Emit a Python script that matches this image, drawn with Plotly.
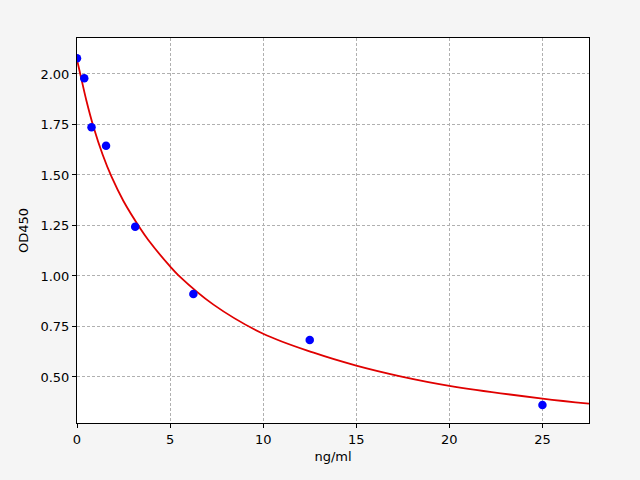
import plotly.graph_objects as go

# Standard points
conc = [0, 0.39, 0.78, 1.56, 3.125, 6.25, 12.5, 25]
od = [2.078, 1.979, 1.736, 1.644, 1.243, 0.911, 0.683, 0.361]

# Fitted curve
curve_x = [0, 0.2, 0.5, 0.88, 1.38, 1.86, 2.5, 3.4, 3.83, 5.0, 5.45, 7.33, 10, 12.71, 15, 17.37, 20, 25, 27.5]
curve_y = [2.07, 1.99, 1.87, 1.74, 1.60, 1.49, 1.37, 1.235, 1.178, 1.047, 1.003, 0.858, 0.714, 0.620, 0.556, 0.503, 0.456, 0.393, 0.368]

y_ticks = [0.50, 0.75, 1.00, 1.25, 1.50, 1.75, 2.00]
x_ticks = [0, 5, 10, 15, 20, 25]

fig = go.Figure()
fig.add_trace(go.Scatter(x=curve_x, y=curve_y, mode="lines",
                         line=dict(color="#e00000", width=1.8, shape="spline", smoothing=1.0),
                         showlegend=False))
fig.add_trace(go.Scatter(x=conc, y=od, mode="markers",
                         marker=dict(color="#0000ff", size=8.5),
                         showlegend=False))

axis_common = dict(showline=True, linecolor="black", linewidth=1, mirror=True,
                   ticks="outside", ticklen=4, tickcolor="black", tickwidth=1,
                   showgrid=True, gridcolor="#b0b0b0", gridwidth=0.8, griddash="3px,2px",
                   zeroline=False, tickfont=dict(size=13, color="black"))

fig.update_layout(
    width=640, height=480,
    margin=dict(l=77, r=51, t=38, b=57),
    paper_bgcolor="#f5f5f5", plot_bgcolor="white",
    font=dict(family="DejaVu Sans", size=13, color="black"),
    xaxis=dict(range=[0, 27.5], tickvals=x_ticks, ticktext=[str(v) for v in x_ticks],
               title=dict(text="ng/ml", font=dict(size=13), standoff=6), **axis_common),
    yaxis=dict(range=[0.272, 2.178], tickvals=y_ticks, ticktext=[f"{v:.2f}" for v in y_ticks],
               title=dict(text="OD450", font=dict(size=13), standoff=8), **axis_common),
)

fig.write_html("out.html", config={"displayModeBar": False},
               post_script="document.body.style.margin='0';document.body.style.background='#f5f5f5';")
